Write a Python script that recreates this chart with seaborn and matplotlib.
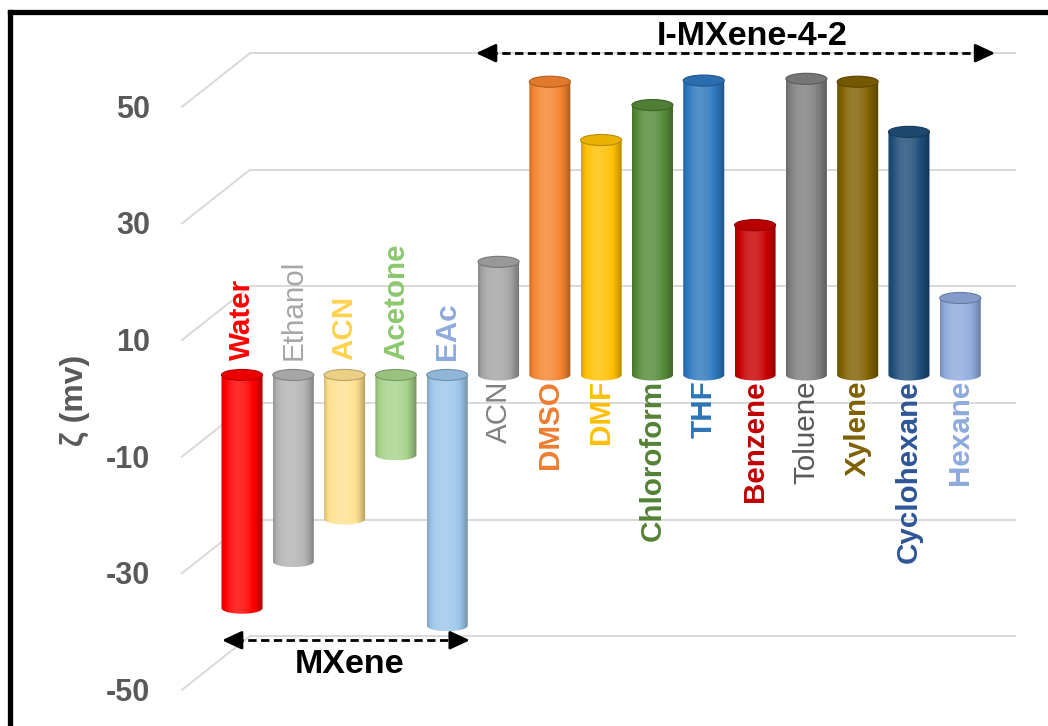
import numpy as np
import pandas as pd
import seaborn as sns
import matplotlib.pyplot as plt
from matplotlib.path import Path
from matplotlib.patches import PathPatch, Ellipse
from matplotlib.colors import to_rgb

# zeta potential of MXene / I-MXene-4-2 in different solvents
groups = ['MXene'] * 5 + ['I-MXene-4-2'] * 10
solvents = ['Water', 'Ethanol', 'ACN', 'Acetone', 'EAc',
            'ACN', 'DMSO', 'DMF', 'Chloroform', 'THF', 'Benzene',
            'Toluene', 'Xylene', 'Cyclohexane', 'Hexane']
zeta = [-40, -32, -24.7, -13.7, -43,
        19.4, 50.3, 40.3, 46.3, 50.5, 25.7, 50.8, 50.3, 41.7, 13.2]
bar_colors = ['#ff0000', '#b4b4b4', '#ffe18f', '#a6d38a', '#9dc6ea',
              '#a5a5a5', '#f5842f', '#ffc000', '#558a38', '#2e78bf', '#c80000',
              '#808080', '#806000', '#1f4e79', '#8faadc']
label_colors = ['#ff0000', '#a6a6a6', '#ffd24d', '#8cc86e', '#8faadc',
                '#808080', '#ed7d31', '#ffc000', '#548235', '#2e75b6', '#c00000',
                '#595959', '#7f6000', '#2f5597', '#8faadc']
label_bold = [True, False, True, True, True,
              False, True, True, True, True, True, False, True, True, True]
ticks = [50, 30, 10, -10, -30, -50]

plt.rcParams['font.family'] = ['Liberation Sans', 'DejaVu Sans']

keys = [f'{g}|{s}|{i}' for i, (g, s) in enumerate(zip(groups, solvents))]
df = pd.DataFrame({'key': keys, 'solvent': solvents, 'group': groups, 'zeta': zeta})

fig = plt.figure(figsize=(10.48, 7.26), dpi=100)
ax = fig.add_axes([0, 0, 1, 1])
sns.barplot(data=df, x='key', y='zeta', hue='key', order=keys, hue_order=keys,
            palette=dict(zip(keys, bar_colors)), legend=False, errorbar=None,
            width=0.8, ax=ax)

XLIM = (-4.717, 15.71)
YLIM = (-60.21, 64.32)
FRONT, BACK = -4.0, 5.2      # pseudo-3D shift of the front / back planes
WALL = (0.156, 15.07)
RY = 0.95                    # half height of the cylinder caps


def shade(c, k):
    c = np.array(c)
    return c + (1 - c) * k if k > 0 else c * (1 + k)


# back wall gridlines + floor diagonals + tick labels
for v in ticks:
    ax.plot(WALL, [v + BACK] * 2, color='#d9d9d9', lw=1.4, zorder=0)
    ax.plot([-1.17, WALL[0]], [v + FRONT, v + BACK], color='#d9d9d9', lw=1.4, zorder=0)
    ax.text(-1.79, v + FRONT - 0.5, str(v), ha='right', va='center', fontsize=22,
            fontweight='bold', color='#595959')

ax.text(-3.26, -4.3, 'ζ (mv)', rotation=90, ha='center', va='center',
        fontsize=23, fontweight='bold', color='#595959')

# cylinders
t = np.linspace(0, 1, 200)
k = np.where(t < 0.4, 0.18 - 0.35 * ((0.4 - t) / 0.4) ** 2,
             0.18 - 0.5 * ((t - 0.4) / 0.6) ** 2)
patches = sorted(ax.patches, key=lambda p: p.get_x())
for p, v, col in zip(patches, zeta, bar_colors):
    x0, w = p.get_x(), p.get_width()
    cx = x0 + w / 2
    top, bot = max(v, 0), min(v, 0)
    p.set_visible(False)
    base = to_rgb(col)
    grad = np.array([[shade(base, kk) for kk in k]] * 2)
    ang = np.linspace(np.pi, 2 * np.pi, 40)
    verts = [(x0, top), (x0, bot)]
    verts += [(cx + w / 2 * np.cos(a), bot + RY * np.sin(a)) for a in ang]
    verts += [(x0 + w, top), (x0, top)]
    path = Path(verts, [Path.MOVETO] + [Path.LINETO] * (len(verts) - 2) + [Path.CLOSEPOLY])
    clip = PathPatch(path, facecolor='none', edgecolor='none', transform=ax.transData)
    ax.add_patch(clip)
    im = ax.imshow(grad, extent=(x0, x0 + w, bot - RY, top), aspect='auto',
                   interpolation='bilinear', zorder=2)
    im.set_clip_path(clip)
    ax.add_patch(Ellipse((cx, top), w, 2 * RY, facecolor=shade(base, -0.08),
                         edgecolor=shade(base, -0.28), lw=0.8, zorder=3))

# solvent labels
for i, (s, g, c, b) in enumerate(zip(solvents, groups, label_colors, label_bold)):
    if g == 'MXene':
        ax.text(i, 2.6, s, rotation=90, ha='center', va='bottom', fontsize=21.3,
                fontweight='bold' if b else 'normal', color=c, zorder=4)
    else:
        ax.text(i, -0.9, s, rotation=90, ha='center', va='top', fontsize=21.3,
                fontweight='bold' if b else 'normal', color=c, zorder=4)


def span_arrow(xa, xb, y):
    ax.plot([xa + 0.25, xb - 0.25], [y, y], color='black', lw=2, ls=(0, (3, 1.6)), zorder=4)
    for a, b in [(xa, xa + 0.3), (xb, xb - 0.3)]:
        ax.annotate('', xy=(a, y), xytext=(b, y), zorder=4,
                    arrowprops=dict(arrowstyle='-|>,head_length=0.6,head_width=0.28',
                                    mutation_scale=20, color='black', lw=2,
                                    shrinkA=0, shrinkB=0))


span_arrow(-0.39, 4.44, -45.5)
ax.text(2.1, -49.6, 'MXene', ha='center', va='center', fontsize=24.5, fontweight='bold')
span_arrow(4.56, 14.68, 55.2)
ax.text(9.94, 58.0, 'I-MXene-4-2', ha='center', va='center', fontsize=24.5, fontweight='bold')

ax.set_xlim(*XLIM)
ax.set_ylim(*YLIM)
ax.axis('off')

# black frame
fig.add_artist(plt.Line2D([10 / 1048, 10 / 1048], [0, 1 - 12 / 726], transform=fig.transFigure,
                          color='black', lw=3.8, solid_capstyle='projecting'))
fig.add_artist(plt.Line2D([10 / 1048, 1], [1 - 12 / 726, 1 - 12 / 726], transform=fig.transFigure,
                          color='black', lw=3.8, solid_capstyle='projecting'))

fig.savefig('out.png', dpi=100)
